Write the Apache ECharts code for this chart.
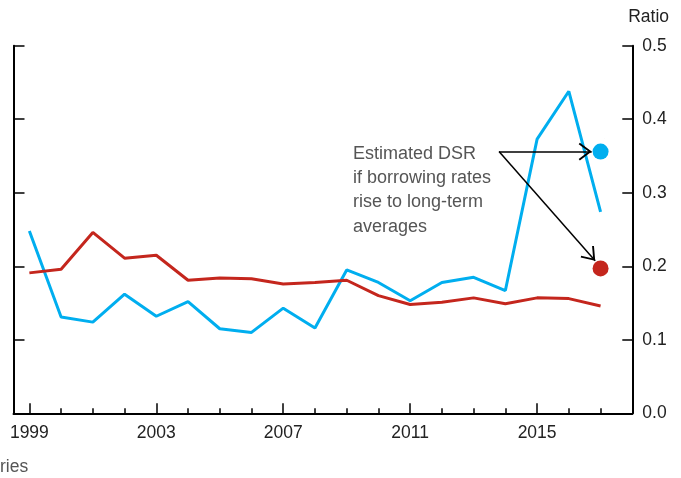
<!DOCTYPE html>
<html>
<head>
<meta charset="utf-8">
<script src="https://cdn.jsdelivr.net/npm/echarts@6/dist/echarts.min.js"></script>
<style>
  html, body { margin: 0; padding: 0; background: #fff; }
  #chart { width: 681px; height: 478px; }
</style>
</head>
<body>
<div id="chart"></div>
<script>
// 年份與數值
const years = [1999, 2000, 2001, 2002, 2003, 2004, 2005, 2006, 2007, 2008,
  2009, 2010, 2011, 2012, 2013, 2014, 2015, 2016, 2017];
const labelYears = [1999, 2003, 2007, 2011, 2015];
const blueValues = [0.248, 0.131, 0.124, 0.162, 0.132, 0.152, 0.115, 0.110, 0.143, 0.116,
  0.195, 0.178, 0.153, 0.178, 0.185, 0.167, 0.373, 0.438, 0.274];
const redValues = [0.191, 0.196, 0.246, 0.211, 0.215, 0.181, 0.184, 0.183, 0.176, 0.178,
  0.181, 0.160, 0.148, 0.151, 0.157, 0.149, 0.157, 0.156, 0.146];
// 估計值（2017）
const blueEstimate = [2017, 0.356];
const redEstimate = [2017, 0.197];
const noteText = ['Estimated DSR', 'if borrowing rates', 'rise to long-term', 'averages'];

const BLUE = '#00AEEF';
const RED = '#C4261D';
const FONT = 'Liberation Sans, Arial, Helvetica, sans-serif';

const pairs = vals => years.map((y, i) => [y, vals[i]]);

// 開口箭頭（尖端在中心）
const chevron = 'path://M-1.2,-1.2 L-1.1,-1.2 L-1.2,-1.1 Z ' +
  'M10,10 L17.6,20.3 L16.3,21.3 L10,12.7 L3.7,21.3 L2.4,20.3 Z ' +
  'M21.2,21.2 L21.1,21.2 L21.2,21.1 Z';

const chart = echarts.init(document.getElementById('chart'));

const axisBase = {
  type: 'value',
  min: 1998.5,
  max: 2018,
  position: 'bottom',
  splitLine: { show: false }
};

const option = {
  animation: false,
  textStyle: { fontFamily: FONT },
  grid: { left: 13.5, right: 48.7, top: 45.7, bottom: 64.7 },
  xAxis: [
    Object.assign({}, axisBase, {
      axisLine: { lineStyle: { color: '#000', width: 2 } },
      axisTick: { inside: true, length: 5, lineStyle: { color: '#000', width: 1.5 }, customValues: years },
      axisLabel: {
        customValues: labelYears, formatter: v => String(v),
        color: '#222', fontSize: 17.5, margin: 11, fontFamily: FONT
      }
    }),
    Object.assign({}, axisBase, {
      axisLine: { show: false },
      axisTick: { inside: true, length: 10, lineStyle: { color: '#000', width: 1.5 }, customValues: labelYears },
      axisLabel: { show: false }
    })
  ],
  yAxis: [
    {
      type: 'value', position: 'right', min: 0, max: 0.5, interval: 0.1,
      splitLine: { show: false },
      axisLine: { show: true, lineStyle: { color: '#000', width: 2 } },
      axisTick: { show: true, inside: true, length: 10, lineStyle: { color: '#000', width: 1.5 } },
      axisLabel: { formatter: v => v.toFixed(1), color: '#222', fontSize: 17.5, margin: 10, fontFamily: FONT }
    },
    {
      type: 'value', position: 'left', min: 0, max: 0.5, interval: 0.1,
      splitLine: { show: false },
      axisLine: { show: true, lineStyle: { color: '#000', width: 2 } },
      axisTick: { show: true, inside: true, length: 11, lineStyle: { color: '#000', width: 1.5 } },
      axisLabel: { show: false }
    }
  ],
  graphic: [
    { type: 'text', right: 12, top: 8, style: { text: 'Ratio', font: '17.5px ' + FONT, fill: '#222' } },
    { type: 'text', left: 353, top: 141.5,
      style: { text: noteText.join('\n'), font: '18px ' + FONT, lineHeight: 24.3, fill: '#555' } },
    { type: 'text', left: 0, top: 458, style: { text: 'ries', font: '17.5px ' + FONT, fill: '#555' } }
  ],
  series: [
    {
      name: 'blue', type: 'line', data: pairs(blueValues),
      showSymbol: false, lineStyle: { color: BLUE, width: 3 }, itemStyle: { color: BLUE }
    },
    {
      name: 'red', type: 'line', data: pairs(redValues),
      showSymbol: false, lineStyle: { color: RED, width: 3 }, itemStyle: { color: RED }
    },
    {
      name: 'estimate', type: 'scatter', symbolSize: 16,
      itemStyle: { opacity: 1 },
      data: [
        { value: blueEstimate, itemStyle: { color: BLUE, opacity: 1 } },
        { value: redEstimate, itemStyle: { color: RED, opacity: 1 } }
      ],
      markLine: {
        silent: true,
        symbol: ['none', chevron],
        symbolSize: 26,
        label: { show: false },
        lineStyle: { color: '#000', width: 1.5, type: 'solid', opacity: 1 },
        emphasis: { disabled: true },
        data: [
          [{ coord: [2013.8, 0.356] }, { coord: [2016.72, 0.356] }],
          [{ coord: [2013.8, 0.356] }, { coord: [2016.83, 0.2076] }]
        ]
      }
    }
  ]
};

chart.setOption(option);
</script>
</body>
</html>
